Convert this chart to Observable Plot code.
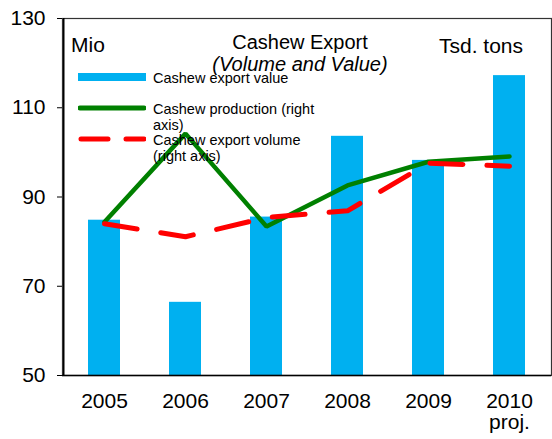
<!DOCTYPE html>
<html>
<head>
<meta charset="utf-8">
<script src="https://cdn.jsdelivr.net/npm/d3@7"></script>
<script src="https://cdn.jsdelivr.net/npm/@observablehq/plot@0.6"></script>
<style>
  body { margin: 0; background: #fff; font-family: "Liberation Sans", Arial, sans-serif; }
  #wrap { position: relative; width: 552px; height: 439px; }
  .lbl { position: absolute; color: #000; white-space: nowrap; line-height: 1; }
  .leg { position: absolute; left: 78px; display: flex; align-items: flex-start; font-size: 14.5px; }
  .leg svg { flex: none; margin-right: 7px; }
  .leg span { line-height: 16px; }
</style>
</head>
<body>
<div id="wrap"></div>
<script>
const years = ["2005", "2006", "2007", "2008", "2009", "2010"];
const exportValue = [84.8, 66.4, 85.5, 103.6, 98.2, 117.2];
const production = [84.4, 104.2, 83.4, 92.6, 97.9, 99.1];
const exportVolume = [84.0, 81.1, 85.4, 86.9, 97.6, 96.9];
const xTickLabels = ["2005", "2006", "2007", "2008", "2009", "2010\nproj."];
const yTicks = [50, 70, 90, 110, 130];
const colors = ["#00B0F0", "#008000", "#FF0000"];

const rows = years.map((y, i) => ({year: y, value: exportValue[i], prod: production[i], vol: exportVolume[i]}));
const base = yTicks[0];

const chart = Plot.plot({
  width: 552,
  height: 439,
  marginLeft: 62,
  marginRight: 1,
  marginTop: 18,
  marginBottom: 64,
  style: {fontFamily: "'Liberation Sans', Arial, sans-serif", fontSize: "21px", color: "#000", background: "#fff"},
  x: {domain: years, type: "band", paddingInner: 0.6, paddingOuter: 0.3, tickSize: 0, tickPadding: 18,
      tickFormat: (d) => xTickLabels[years.indexOf(d)], label: null},
  y: {domain: [base, yTicks[yTicks.length - 1]], ticks: yTicks, tickSize: 5, tickPadding: 12, label: null},
  marks: [
    Plot.barY(rows, {x: "year", y1: () => base, y2: "value", fill: colors[0]}),
    Plot.line(rows, {x: "year", y: "prod", stroke: colors[1], strokeWidth: 4.5, strokeLinejoin: "miter"}),
    Plot.line(rows, {x: "year", y: "vol", stroke: colors[2], strokeWidth: 5, strokeDasharray: "33,24", strokeLinecap: "round"}),
    Plot.frame({stroke: "#333", strokeWidth: 1.2}),
    Plot.ruleX([years[0]], {stroke: "#000", strokeWidth: 1.5, dx: -40.75}),
    Plot.ruleY([base], {stroke: "#000", strokeWidth: 1.5})
  ]
});

const wrap = document.getElementById("wrap");
wrap.appendChild(chart);

function addLabel(text, css) {
  const d = document.createElement("div");
  d.className = "lbl";
  d.textContent = text;
  Object.assign(d.style, css);
  wrap.appendChild(d);
}
addLabel("Cashew Export", {left: "300px", top: "32px", transform: "translateX(-50%)", fontSize: "20px"});
addLabel("(Volume and Value)", {left: "300px", top: "54px", transform: "translateX(-50%)", fontSize: "20px", fontStyle: "italic"});
addLabel("Mio", {left: "71px", top: "34px", fontSize: "21px"});
addLabel("Tsd. tons", {left: "439px", top: "35px", fontSize: "21px"});

const legTops = [70, 101, 132];
const legLines = [["Cashew export value"], ["Cashew production (right", "axis)"], ["Cashew export volume", "(right axis)"]];
legLines.forEach((lines, i) => {
  const row = document.createElement("div");
  row.className = "leg";
  row.style.top = legTops[i] + "px";
  const sw = i === 0
    ? `<svg width="68" height="16"><line x1="0" x2="68" y1="7" y2="7" stroke="${colors[0]}" stroke-width="8"/></svg>`
    : i === 1
    ? `<svg width="68" height="16"><line x1="2" x2="66" y1="7" y2="7" stroke="${colors[1]}" stroke-width="5" stroke-linecap="round"/></svg>`
    : `<svg width="68" height="16"><line x1="3" x2="66" y1="7" y2="7" stroke="${colors[2]}" stroke-width="5" stroke-linecap="round" stroke-dasharray="27,18"/></svg>`;
  row.innerHTML = sw + `<span>${lines.join("<br>")}</span>`;
  wrap.appendChild(row);
});
</script>
</body>
</html>
